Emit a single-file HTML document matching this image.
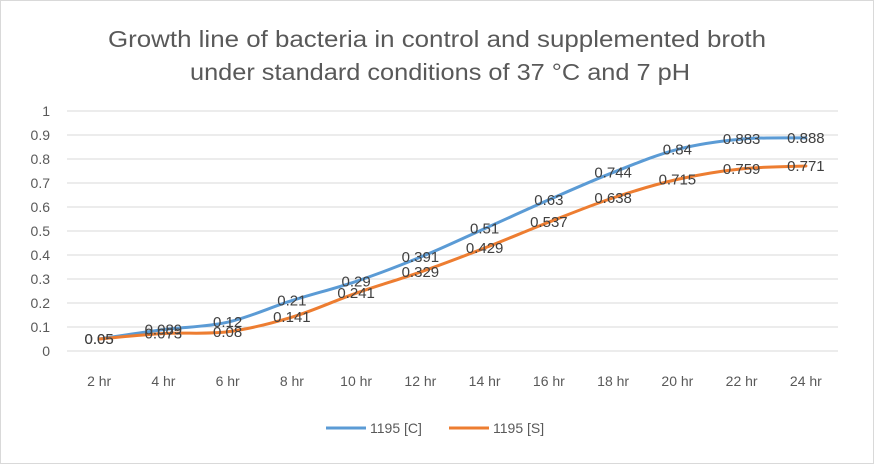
<!DOCTYPE html>
<html><head><meta charset="utf-8"><style>
body{margin:0;background:#fff}
svg{display:block;font-family:"Liberation Sans",sans-serif}
</style></head><body>
<svg id="c" width="874" height="464">
<rect x="0.5" y="0.5" width="873" height="463" fill="#fff" stroke="#d9d9d9"/>
<text x="437" y="47" text-anchor="middle" font-size="23" fill="#595959" textLength="658" lengthAdjust="spacingAndGlyphs">Growth line of bacteria in control and supplemented broth</text>
<text x="440" y="80" text-anchor="middle" font-size="23" fill="#595959" textLength="500" lengthAdjust="spacingAndGlyphs">under standard conditions of 37 °C and 7 pH</text>
<g id="grid"></g><g id="series"></g><g id="labels"></g>
<g>
<line x1="326" y1="428" x2="366" y2="428" stroke="#5b9bd5" stroke-width="3"/>
<text x="370" y="433" font-size="14" fill="#595959">1195 [C]</text>
<line x1="449" y1="428" x2="489" y2="428" stroke="#ed7d31" stroke-width="3"/>
<text x="493" y="433" font-size="14" fill="#595959">1195 [S]</text>
</g>
</svg>
<script>
const categories=["2 hr","4 hr","6 hr","8 hr","10 hr","12 hr","14 hr","16 hr","18 hr","20 hr","22 hr","24 hr"];
const seriesC=[0.05,0.089,0.12,0.21,0.29,0.391,0.51,0.63,0.744,0.84,0.883,0.888];
const seriesS=[0.05,0.073,0.08,0.141,0.241,0.329,0.429,0.537,0.638,0.715,0.759,0.771];
const yTicks=[0,0.1,0.2,0.3,0.4,0.5,0.6,0.7,0.8,0.9,1];
const NS="http://www.w3.org/2000/svg";
const x0=67,x1=838,yb=351,yt=111;
const step=(x1-x0)/categories.length;
const xs=i=>x0+step*(i+0.5);
const ys=v=>yb-(yb-yt)*v;
function mk(t,a,p){const e=document.createElementNS(NS,t);for(const k in a)e.setAttribute(k,a[k]);p.appendChild(e);return e;}
const grid=document.getElementById('grid');
yTicks.forEach(v=>{
 const l=mk('line',{x1:x0,x2:x1,y1:ys(v),y2:ys(v),stroke:'#d9d9d9','stroke-width':1},grid);
 
 
 const t=mk('text',{x:50,y:ys(v)+5,'text-anchor':'end','font-size':14,fill:'#595959'},grid);
 t.textContent=String(v);
 
 
});
categories.forEach((c,i)=>{
 const t=mk('text',{x:xs(i),y:386,'text-anchor':'middle','font-size':14,fill:'#595959'},grid);
 t.textContent=c;
 
 
});
function path(vals){
 const p=vals.map((v,i)=>[xs(i),ys(v)]);
 let d='M'+p[0][0]+','+p[0][1];
 for(let i=0;i<p.length-1;i++){
  const a=p[Math.max(i-1,0)],b=p[i],c=p[i+1],e=p[Math.min(i+2,p.length-1)];
  const k=1/6;
  d+=' C'+(b[0]+(c[0]-a[0])*k)+','+(b[1]+(c[1]-a[1])*k)+' '+(c[0]-(e[0]-b[0])*k)+','+(c[1]-(e[1]-b[1])*k)+' '+c[0]+','+c[1];
 }
 return d;
}
const sg=document.getElementById('series'),lg=document.getElementById('labels');
[[seriesC,'#5b9bd5','control'],[seriesS,'#ed7d31','supplemented']].forEach(([vals,col,nm])=>{
 const p=mk('path',{d:path(vals),fill:'none',stroke:col,'stroke-width':3,'stroke-linecap':'round'},sg);
 
 
 vals.forEach((v,i)=>{
  const t=mk('text',{x:xs(i),y:ys(v)+5,'text-anchor':'middle','font-size':15,fill:'#404040'},lg);
  t.textContent=String(v);
  
  
 });
});
</script>
</body></html>
